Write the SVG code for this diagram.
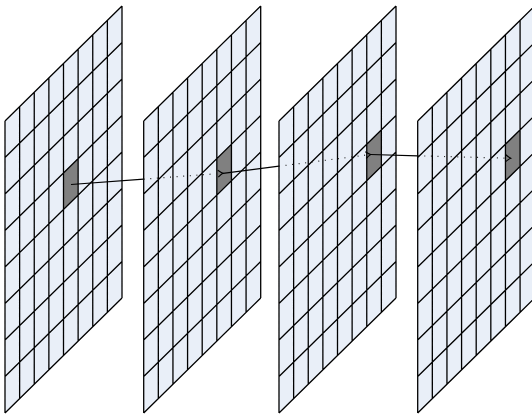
<svg xmlns="http://www.w3.org/2000/svg" xmlns:xlink="http://www.w3.org/1999/xlink" width="532" height="417" viewBox="0 0 532 417">
<style>
.plane{fill:#e9eff8;stroke:none}
.grid{fill:none;stroke:#000;stroke-width:1.3}
.cell{fill:#808080;stroke:none}
.solid{fill:none;stroke:#000;stroke-width:1.2}
.dot{fill:none;stroke:#222;stroke-width:1.2;stroke-dasharray:1 5.6}
</style>
<defs>
<marker id="arr" markerUnits="userSpaceOnUse" markerWidth="12" markerHeight="12" viewBox="-7 -6 8 12" refX="0" refY="0" orient="auto" overflow="visible">
<path d="M-5,-3.4 Q-1.5,-0.6 0,0 Q-1.5,0.6 -5,3.4" fill="none" stroke="#000" stroke-width="1.1"/>
</marker>
<polygon id="plane" class="plane" points="0,0 117,-115 117,177 0,292"/>
<path id="lines" class="grid" d="M0,0V292 M14.625,-14.375V277.625 M29.25,-28.75V263.25 M43.875,-43.125V248.875 M58.5,-57.5V234.5 M73.125,-71.875V220.125 M87.75,-86.25V205.75 M102.375,-100.625V191.375 M117,-115V177 M0,0L117,-115 M0,36.5L117,-78.5 M0,73L117,-42 M0,109.5L117,-5.5 M0,146L117,31 M0,182.5L117,67.5 M0,219L117,104 M0,255.5L117,140.5 M0,292L117,177"/>
</defs>
<g id="grid1" transform="translate(5,121)">
<use xlink:href="#plane" href="#plane"/>
<polygon class="cell" points="58.5,52 73.125,37.625 73.125,74.125 58.5,88.5"/>
<use xlink:href="#lines" href="#lines"/>
</g>
<g id="grid2" transform="translate(143.7,121)">
<use xlink:href="#plane" href="#plane"/>
<polygon class="cell" points="73.125,37.625 87.75,23.25 87.75,59.75 73.125,74.125"/>
<use xlink:href="#lines" href="#lines"/>
</g>
<g id="grid3" transform="translate(279,121)">
<use xlink:href="#plane" href="#plane"/>
<polygon class="cell" points="87.75,23.25 102.375,8.875 102.375,45.375 87.75,59.75"/>
<use xlink:href="#lines" href="#lines"/>
</g>
<g id="grid4" transform="translate(417.7,121)">
<use xlink:href="#plane" href="#plane"/>
<polygon class="cell" points="87.75,23.25 102.375,8.875 102.375,45.375 87.75,59.75"/>
<use xlink:href="#lines" href="#lines"/>
</g>
<g id="connectors">
<path class="solid" d="M71,184.5L143.7,179.1"/>
<path class="dot" d="M143.7,179.1L223,173.3" marker-end="url(#arr)"/>
<path class="solid" d="M223,173.3L279,166.2"/>
<path class="dot" d="M279,166.2L370.7,154.5" marker-end="url(#arr)"/>
<path class="solid" d="M370.7,154.5L417.7,155.8"/>
<path class="dot" d="M417.7,155.8L510.7,158.3" marker-end="url(#arr)"/>
</g>
</svg>
